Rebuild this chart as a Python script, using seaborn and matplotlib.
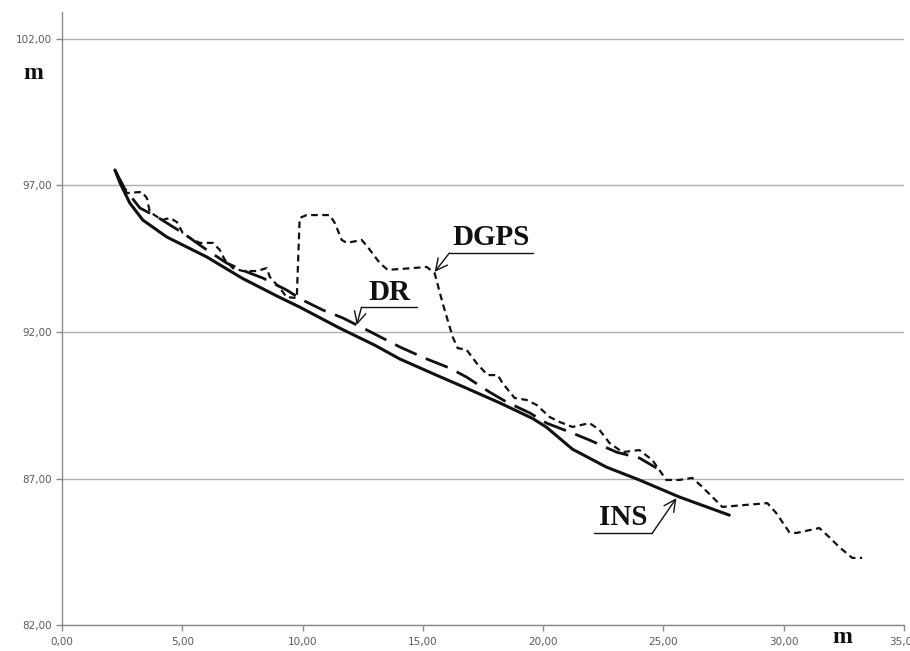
import numpy as np
import pandas as pd
import matplotlib
matplotlib.use("Agg")
import matplotlib.pyplot as plt
import seaborn as sns

# ==============================
# Data
# ==============================
dgps_x = [2.20, 2.70, 3.32, 3.53, 3.65, 4.15, 4.49, 4.78, 5.02, 5.32, 5.73, 6.27,
          6.56, 6.77, 7.10, 7.52, 8.10, 8.51, 8.64, 9.05, 9.34, 9.76, 9.88, 10.17,
          11.13, 11.34, 11.63, 11.84, 12.46, 12.71, 13.21, 13.54, 14.58, 15.16,
          15.49, 15.82, 16.24, 16.45, 16.82, 17.23, 17.69, 18.11, 18.31, 18.81,
          19.31, 19.73, 20.27, 20.68, 21.22, 21.93, 22.34, 22.76, 23.30, 24.00,
          24.54, 24.83, 25.12, 25.66, 26.20, 26.62, 27.45, 28.45, 29.32, 29.69,
          30.23, 30.52, 31.48, 31.89, 32.31, 32.85, 33.26]
dgps_y = [97.53, 96.74, 96.78, 96.57, 96.10, 95.82, 95.89, 95.75, 95.38, 95.21, 95.04, 95.04,
          94.80, 94.46, 94.18, 94.08, 94.08, 94.18, 93.88, 93.50, 93.19, 93.16, 95.89, 95.99,
          95.99, 95.72, 95.14, 95.04, 95.14, 94.90, 94.35, 94.12, 94.18, 94.22,
          94.01, 92.99, 91.83, 91.45, 91.39, 90.94, 90.53, 90.53, 90.26, 89.75,
          89.68, 89.51, 89.10, 88.93, 88.76, 88.89, 88.66, 88.21, 87.90, 87.97,
          87.63, 87.29, 86.95, 86.95, 87.02, 86.71, 86.03, 86.10, 86.16, 85.82,
          85.17, 85.14, 85.31, 85.00, 84.66, 84.29, 84.29]

dr_x = [2.20, 2.60, 3.24, 3.95, 5.02, 6.02, 6.85, 7.68, 8.35, 9.34, 10.00, 10.84,
        11.67, 12.67, 14.04, 15.07, 16.11, 16.82, 17.77, 18.48, 19.44, 20.14,
        21.22, 21.93, 23.05, 24.00, 24.71]
dr_y = [97.53, 96.90, 96.23, 95.93, 95.38, 94.80, 94.35, 94.05, 93.84, 93.43, 93.09, 92.75,
        92.48, 92.07, 91.49, 91.11, 90.77, 90.46, 89.95, 89.61, 89.24, 88.89,
        88.55, 88.31, 87.90, 87.70, 87.36]

ins_x = [2.20, 2.41, 2.82, 3.36, 4.36, 5.19, 6.02, 7.50, 9.00, 9.88, 11.50, 13.00,
         14.04, 15.50, 16.82, 18.20, 19.56, 20.14, 21.22, 22.63, 24.00, 25.66, 27.74]
ins_y = [97.53, 97.09, 96.40, 95.82, 95.24, 94.90, 94.56, 93.83, 93.20, 92.85, 92.15, 91.55,
         91.08, 90.55, 90.08, 89.58, 89.05, 88.75, 88.00, 87.39, 86.95, 86.37, 85.75]

y_ticks = [82, 87, 92, 97, 102]
x_ticks = [0, 5, 10, 15, 20, 25, 30, 35]

# label: (text, arrow tip, underline left, underline right, underline y, arrow starts at)
labels = [
    ("DGPS", (15.49, 94.05), 16.11, 19.56, 94.70, "left"),
    ("DR", (12.25, 92.24), 12.45, 14.75, 92.84, "left"),
    ("INS", (25.54, 86.33), 22.13, 24.54, 85.14, "right"),
]

# ==============================
# Figure
# ==============================
sns.set_theme(style="white")
plt.rcParams['font.family'] = ['DejaVu Sans']

fig = plt.figure(figsize=(9.1, 6.51), dpi=100)
ax = fig.add_axes([0.0681, 0.0399, 0.9253, 0.9417])

ink = "#111111"
sns.lineplot(x=ins_x, y=ins_y, ax=ax, color=ink, lw=2.2, sort=False, estimator=None)
sns.lineplot(x=dr_x, y=dr_y, ax=ax, color=ink, lw=2.0, sort=False, estimator=None,
             linestyle=(0, (8.5, 3.6)))
sns.lineplot(x=dgps_x, y=dgps_y, ax=ax, color=ink, lw=1.6, sort=False, estimator=None,
             linestyle=(0, (3.0, 2.0)))

ax.set_xlim(0, 35)
ax.set_ylim(82, 102.92)
ax.set_xticks(x_ticks)
ax.set_yticks(y_ticks)
ax.set_xticklabels([f"{v:.2f}".replace(".", ",") for v in x_ticks])
ax.set_yticklabels([f"{v:.2f}".replace(".", ",") for v in y_ticks])
ax.tick_params(axis="both", labelsize=7.5, colors="#8a8a8a", labelcolor="#5a5a5a",
               length=4.5, width=1, direction="out", left=True, bottom=True, pad=2.5)
ax.tick_params(axis="x", pad=4)

ax.grid(axis="y", color="#b0b0b0", lw=1)
ax.grid(axis="x", visible=False)
for side in ["top", "right"]:
    ax.spines[side].set_visible(False)
for side in ["left", "bottom"]:
    ax.spines[side].set_color("#8a8a8a")
    ax.spines[side].set_linewidth(1)

# axis unit labels
serif = dict(family="Liberation Serif", weight="bold", color=ink)
fig.text(0.037, 0.887, "m", fontsize=17, ha="center", va="center", **serif)
fig.text(0.926, 0.021, "m", fontsize=17, ha="center", va="center", **serif)

# ==============================
# Callout labels
# ==============================
for text, tip, x0, x1, y_line, start in labels:
    ax.plot([x0, x1], [y_line, y_line], color=ink, lw=1.0)
    ax.text((x0 + x1) / 2, y_line + 0.06, text, fontsize=21, ha="center", va="bottom", **serif)
    sx = x0 if start == "left" else x1
    ax.annotate("", xy=tip, xytext=(sx, y_line),
                arrowprops=dict(arrowstyle="->,head_length=0.7,head_width=0.35",
                                color=ink, lw=1.0, shrinkA=0, shrinkB=0))

fig.savefig("out.png", dpi=100)
